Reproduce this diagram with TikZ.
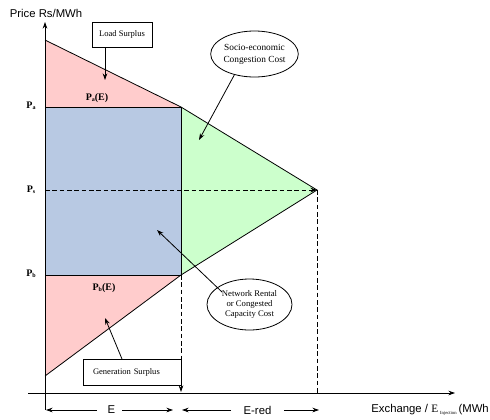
\documentclass[tikz,border=0pt]{standalone}
\usepackage{fontspec}
\setmainfont{Liberation Serif}
\newfontfamily\arialfont{Liberation Sans}
\usetikzlibrary{shapes.geometric,arrows.meta}
\definecolor{surplus}{HTML}{FFCCCC}
\definecolor{rental}{HTML}{B8C9E3}
\definecolor{congest}{HTML}{CCFFCC}
\newcommand{\psub}[1]{\raisebox{-0.25ex}{\fontsize{4.5}{5}\selectfont #1}}
\tikzset{
  sanslbl/.style={font=\arialfont\fontsize{8.5}{10}\selectfont, inner sep=0pt},
  pricelbl/.style={font=\bfseries\fontsize{7.5}{9}\selectfont, inner sep=0pt},
  callout/.style={draw, fill=white, font=\fontsize{6.4}{8}\selectfont, inner sep=0pt},
  bubble/.style={draw, fill=white, ellipse, inner sep=0pt, align=center},
  dimarrow/.style={-{Stealth[length=5pt,width=3.5pt]}},
  dashline/.style={dash pattern=on 3.5pt off 2pt},
}
\begin{document}
\begin{tikzpicture}[x=0.75pt,y=-0.75pt,line width=0.6pt,
  >={Stealth[length=5pt,width=3.5pt]}]
\useasboundingbox (0,0) rectangle (490,419);

% key points of the price / exchange diagram
\coordinate (ytop) at (45,22);
\coordinate (ybot) at (45,410);
\coordinate (xl) at (28,393);
\coordinate (xr) at (455,393);
\coordinate (D0) at (45,40);
\coordinate (A) at (181,107);
\coordinate (PaL) at (45,107);
\coordinate (B) at (181,275);
\coordinate (PbL) at (45,275);
\coordinate (S0) at (45,376);
\coordinate (X) at (317,190);
\coordinate (PsL) at (45,190);
\coordinate (Ebase) at (181,392);
\coordinate (Xbase) at (317,393);

% coloured areas
\fill[surplus] (D0) -- (A) -- (PaL) -- cycle;
\fill[surplus] (PbL) -- (B) -- (S0) -- cycle;
\fill[congest] (A) -- (X) -- (B) -- cycle;
\filldraw[fill=rental] (PaL) rectangle (B);
\draw (D0) -- (A) -- (X) -- (B) -- (S0);

% dashed guide lines
\draw[dashline, ->] (PsL) -- (X);
\draw[dashline, ->] (B) -- (Ebase);
\draw[dashline] (X) -- (Xbase);

% axes
\draw[->] (ybot) -- (ytop);
\draw[->] (xl) -- (xr);

% axis labels
\node[sanslbl] (ylab) at (46,13.5) {Price Rs/MWh};
\node[sanslbl, anchor=west] (xlab) at (371,410)
  {Exchange / {\rmfamily E\,\raisebox{-0.3ex}{\fontsize{3.5}{4}\selectfont Injection}}\,(MWh};

\node[pricelbl] (pa) at (31,106) {P\psub{a}};
\node[pricelbl] (ps) at (31,190) {P\psub{s}};
\node[pricelbl] (pb) at (31,274) {P\psub{b}};
\node[pricelbl] (paE) at (97,98) {P\psub{a}(E)};
\node[pricelbl] (pbE) at (104,288) {P\psub{b}(E)};

% dimension arrows along the exchange axis
\coordinate (eA) at (46,410);
\coordinate (eB) at (173,410);
\coordinate (rA) at (182,410);
\coordinate (rB) at (319,410);
\node[sanslbl] (E) at (111.5,410) {E};
\node[sanslbl] (Ered) at (257.5,410) {E-red};
\draw[dimarrow, shorten <=8pt] (E.west) -- (eA);
\draw[dimarrow, shorten <=5pt] (E.east) -- (eB);
\draw[dimarrow, shorten <=9pt] (Ered.west) -- (rA);
\draw[dimarrow, shorten <=9pt] (Ered.east) -- (rB);

% callout boxes
\node[callout, minimum width=45pt, minimum height=18.75pt] (ls) at (122,34.5) {Load Surplus};
\coordinate (lsTip) at (105,80);
\draw[->] (ls.south -| lsTip) -- (lsTip);

\node[callout, minimum height=19.5pt, text width=58.5pt, inner xsep=7.5pt, align=left] (gs) at (132,372) {Generation Surplus};
\coordinate (gsTail) at (122,359);
\coordinate (gsTip) at (105,318);
\draw[->] (gsTail) -- (gsTip);

% cost bubbles
\node[bubble, minimum width=63.75pt, minimum height=34.5pt,
  font=\fontsize{7}{9}\selectfont] (se) at (254.5,54) {Socio-economic\\Congestion Cost};
\coordinate (seTip) at (199,140);
\draw[->] (se.226) -- (seTip);

\node[bubble, minimum width=63.75pt, minimum height=38.25pt,
  font=\fontsize{6.5}{7.5}\selectfont] (nr) at (249.5,304.5) {Network Rental\\or Congested\\Capacity Cost};
\coordinate (nrTail) at (222,292);
\coordinate (nrTip) at (157,230);
\draw[->] (nrTail) -- (nrTip);
\end{tikzpicture}
\end{document}
